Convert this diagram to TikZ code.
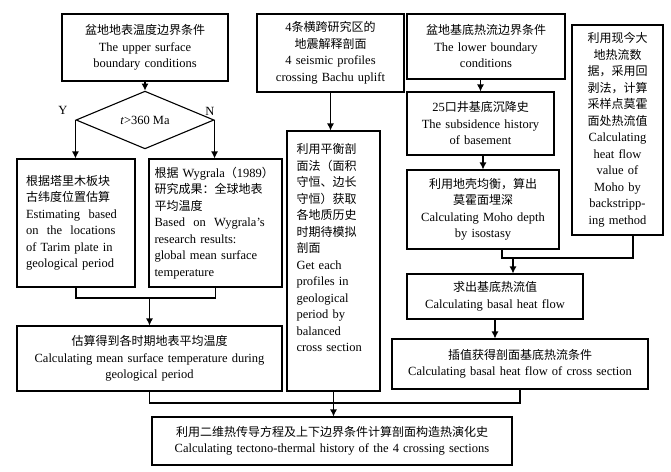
\documentclass[tikz,border=0pt]{standalone}
\usepackage{fontspec}
\setmainfont{Liberation Serif}
\newfontfamily\cjk{Noto Sans CJK SC}
\usetikzlibrary{shapes.geometric,arrows.meta}
\newcommand{\zh}[1]{{\cjk\fontsize{12}{16.5}\selectfont #1}}
\tikzset{
  box/.style  = {rectangle, draw, line width=1.1pt, inner xsep=4pt, inner ysep=2pt, align=center, font=\fontsize{12.5}{16.5}\selectfont},
  cond/.style = {diamond, draw, line width=1.1pt, inner sep=0, minimum width=138pt, minimum height=56pt, font=\fontsize{12.5}{14}\selectfont},
  link/.style = {line width=1.1pt},
  arr/.style  = {link, -{Latex[length=7pt,width=7pt]}},
  yn/.style   = {font=\fontsize{12.5}{14}\selectfont}
}

\begin{document}
\begin{tikzpicture}[x=1pt,y=-1pt]
  \useasboundingbox (0,0) rectangle (671,471);

  % ---- upper boundary (left column) ----
  \node[box, text width=158pt, minimum height=67pt] (upper) at (145,47.5)
    {\zh{盆地地表温度边界条件}\\The upper surface\\boundary conditions};
  \node[cond] (age) at (145,120) {\textit{t}>360 Ma};
  \node[yn] (yes) at (63,110) {Y};
  \node[yn] (no)  at (210,111) {N};

  \node[box, align=left, text width=100pt, minimum width=118pt, minimum height=128pt] (tarim) at (76,223)
    {\zh{根据塔里木板块}\\\zh{古纬度位置估算}\\Estimating \ based\\on \ the \ locations\\of Tarim plate in\\geological period};
  \node[box, align=left, text width=122pt, minimum width=133pt, minimum height=128pt] (wygr) at (215.5,223)
    {\zh{根据} Wygrala\zh{（}1989\zh{）}\\\zh{研究成果：全球地表}\\\zh{平均温度}\\Based \ on \ Wygrala's\\research results:\\global mean surface\\temperature};
  \node[box, text width=257pt, minimum height=65pt] (meant) at (149.5,358.5)
    {\zh{估算得到各时期地表平均温度}\\Calculating mean surface temperature during\\geological period};

  % ---- profiles (middle column) ----
  \node[box, text width=139pt, minimum height=78pt] (seis) at (330.5,53)
    {4\zh{条横跨研究区的}\\\zh{地震解释剖面}\\4 seismic profiles\\crossing Bachu uplift};
  \node[box, align=left, text width=74pt, minimum width=93pt, minimum height=260pt] (bal) at (333.5,261)
    {\zh{利用平衡剖}\\\zh{面法（面积}\\\zh{守恒、边长}\\\zh{守恒）获取}\\\zh{各地质历史}\\\zh{时期待模拟}\\\zh{剖面}\\Get each\\profiles in\\geological\\period by\\balanced\\cross section\\[10pt]~};

  % ---- lower boundary (right column) ----
  \node[box, text width=150pt, minimum height=65pt] (lower) at (486,46.5)
    {\zh{盆地基底热流边界条件}\\The lower boundary\\conditions};
  \node[box, text width=139pt, minimum height=63pt] (subs) at (480.5,123.5)
    {25\zh{口井基底沉降史}\\The subsidence history\\of basement};
  \node[box, text width=144pt, minimum height=79pt] (moho) at (483,209.5)
    {\zh{利用地壳均衡，算出}\\\zh{莫霍面埋深}\\Calculating Moho depth\\by isostasy};
  \node[box, text width=83pt, minimum height=210pt] (back) at (617.5,130)
    {\zh{利用现今大}\\\zh{地热流数}\\\zh{据，采用回}\\\zh{剥法，计算}\\\zh{采样点莫霍}\\\zh{面处热流值}\\Calculating\\heat flow\\value of\\Moho by\\backstripp-\\ing method};
  \node[box, text width=168pt, minimum height=45pt] (basal) at (495,296.5)
    {\zh{求出基底热流值}\\Calculating basal heat flow};
  \node[box, text width=248pt, minimum height=50pt] (intp) at (520,364)
    {\zh{插值获得剖面基底热流条件}\\Calculating basal heat flow of cross section};

  % ---- result ----
  \node[box, text width=352pt, minimum height=48pt] (final) at (332,441)
    {\zh{利用二维热传导方程及上下边界条件计算剖面构造热演化史}\\Calculating tectono-thermal history of the 4 crossing sections};

  % ---- connectors ----
  \draw[arr] (upper) -- (age);
  \draw[arr] (age.west) -- (age.west |- tarim.north);
  \draw[arr] (age.east) -- (age.east |- wygr.north);
  \coordinate (j1) at (149.5,298);
  \draw[link] (tarim.south) |- (j1) -| (wygr.south);
  \draw[arr] (j1) -- (meant.north);

  \draw[arr] (seis.south) -- (seis.south |- bal.north);

  \draw[arr] (subs.north |- lower.south) -- (subs.north);
  \draw[arr] (moho.north |- subs.south) -- (moho.north);
  \coordinate (j2) at (513,258);
  \draw[link] ([xshift=19pt]moho.south) |- (j2) -| ([xshift=15.5pt]back.south);
  \draw[arr] (j2) -- (j2 |- basal.north);
  \draw[arr] (basal.south) -- (basal.south |- intp.north);

  \coordinate (j3) at (333.5,403);
  \draw[link] (meant.south) |- (j3) -| (intp.south);
  \draw[arr] (bal.south) -- (bal.south |- final.north);
\end{tikzpicture}
\end{document}
